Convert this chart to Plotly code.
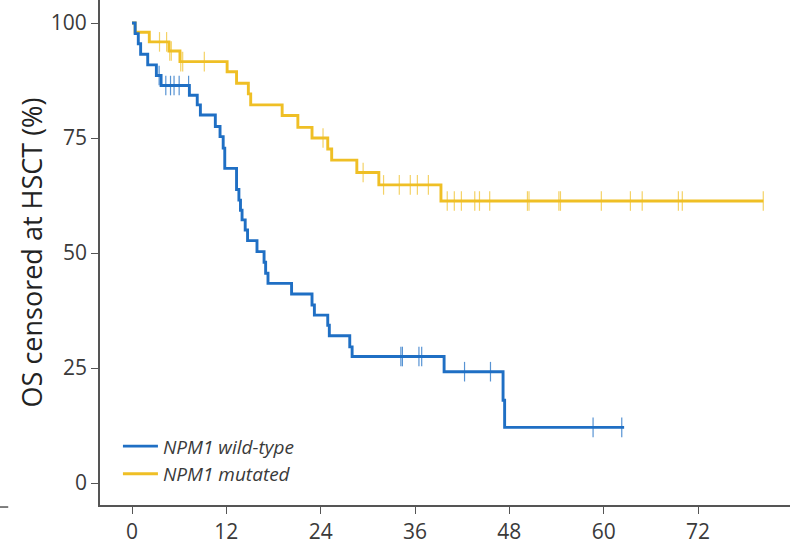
import plotly.graph_objects as go

# ---------------- data ----------------
blue_name = "NPM1 wild-type"
blue_event_t = [0.4, 0.8, 1.1, 2.0, 3.1, 3.7, 7.3, 8.3, 8.7, 10.6, 11.2, 11.6, 11.8,
                13.3, 13.6, 13.8, 14.0, 14.4, 14.7, 15.9, 16.8, 17.0, 17.3, 20.3,
                22.9, 23.2, 24.9, 25.1, 27.7, 28.0, 39.7, 47.2, 47.4]
blue_surv = [97.7, 95.5, 93.2, 90.9, 88.6, 86.4, 84.3, 82.2, 80.0, 77.5, 75.3, 72.8, 68.4,
             63.8, 61.5, 59.3, 57.2, 55.0, 52.7, 50.3, 48.0, 45.6, 43.4, 41.1,
             38.7, 36.5, 34.3, 32.0, 29.6, 27.5, 24.2, 18.0, 12.1]
blue_censor_t = [3.45, 4.3, 4.9, 5.35, 6.0, 7.2, 34.2, 34.4, 36.5, 36.85, 42.3, 45.6, 58.65, 62.3]
blue_end = 62.6

yel_name = "NPM1 mutated"
yel_event_t = [0.4, 2.2, 4.7, 6.1, 12.1, 13.3, 14.8, 15.1, 19.1, 21.1, 22.9, 24.9,
               25.4, 28.6, 31.4, 39.3]
yel_surv = [98.0, 95.9, 93.9, 91.6, 89.4, 86.9, 84.6, 82.2, 79.9, 77.3, 75.0, 72.6,
            70.2, 67.5, 64.8, 61.3]
yel_censor_t = [3.5, 4.4, 4.8, 5.0, 6.2, 6.45, 9.2, 24.3, 29.4, 32.0, 34.0, 35.4, 36.3,
                37.7, 40.1, 41.0, 41.9, 43.6, 44.2, 45.5, 50.3, 50.5, 54.3, 54.5, 59.7,
                63.4, 64.9, 69.5, 70.0, 80.3]
yel_end = 80.3

x_ticks = [0, 12, 24, 36, 48, 60, 72]
y_ticks = [0, 25, 50, 75, 100]
y_title = "OS censored at HSCT (%)"

BLUE = "#1f6fc4"
YEL = "#efbf25"
BLUE_T = "rgba(31,111,196,0.75)"
YEL_T = "rgba(239,191,37,0.7)"


def step_xy(ts, ss, end):
    xs, ys = [0.0], [100.0]
    for t, s in zip(ts, ss):
        xs.append(t)
        ys.append(s)
    xs.append(end)
    ys.append(ss[-1])
    return xs, ys


def level_at(t, ts, ss):
    lv = 100.0
    for et, s in zip(ts, ss):
        if et <= t:
            lv = s
    return lv


fig = go.Figure()
for name, ts, ss, ct, end, col, tcol in [
    (yel_name, yel_event_t, yel_surv, yel_censor_t, yel_end, YEL, YEL_T),
    (blue_name, blue_event_t, blue_surv, blue_censor_t, blue_end, BLUE, BLUE_T),
]:
    xs, ys = step_xy(ts, ss, end)
    fig.add_trace(go.Scatter(x=xs, y=ys, mode="lines", line=dict(color=col, width=2.9, shape="hv"),
                             name="<i>" + name + "</i>", legendrank=2 if col == YEL else 1,
                             hoverinfo="skip"))
    fig.add_trace(go.Scatter(x=ct, y=[level_at(c, ts, ss) for c in ct], mode="markers",
                             marker=dict(symbol="line-ns", size=14, line=dict(color=tcol, width=1.2)),
                             showlegend=False, hoverinfo="skip"))

fig.add_shape(type="line", xref="paper", yref="paper", x0=-0.145, x1=-0.133, y0=-0.004, y1=-0.004,
              line=dict(color="#555", width=1.5))

fig.update_layout(
    width=790, height=550,
    margin=dict(l=100, r=0, t=0, b=45),
    paper_bgcolor="white", plot_bgcolor="white",
    font=dict(family="Open Sans", color="#3a3a3a"),
    showlegend=True,
    legend=dict(x=0.026, y=0.154, xanchor="left", yanchor="top", bgcolor="rgba(0,0,0,0)",
                font=dict(size=19, color="#3a3a3a"), traceorder="normal", itemwidth=35),
    xaxis=dict(range=[-4.07, 83.7], tickvals=x_ticks, ticks="outside", ticklen=7, tickwidth=1.3,
               tickcolor="#555", showline=True, linecolor="#555", linewidth=1.8, showgrid=False,
               zeroline=False, tickfont=dict(size=21, color="#3a3a3a")),
    yaxis=dict(range=[-4.78, 105.0], tickvals=y_ticks, ticks="outside", ticklen=7, tickwidth=1.3,
               tickcolor="#555", showline=True, linecolor="#555", linewidth=1.8, showgrid=False,
               zeroline=False, tickfont=dict(size=21, color="#3a3a3a"),
               title=dict(text=y_title, font=dict(size=27, color="#222"), standoff=0)),
)

fig.write_html("out.html", config={"displayModeBar": False},
               post_script="document.body.style.margin='0';")
